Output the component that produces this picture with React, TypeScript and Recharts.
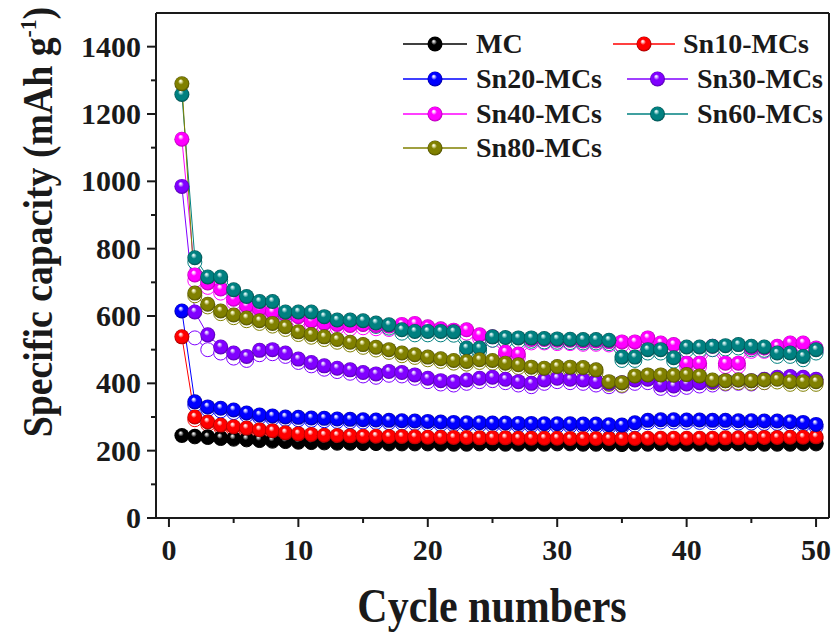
import React from 'react';
import { LineChart, Line, XAxis, YAxis, ReferenceLine, Legend } from 'recharts';

// cycle numbers (x)
const cycles = [
  1, 2, 3, 4, 5, 6, 7, 8, 9, 10, 11, 12, 13, 14, 15, 16, 17, 18, 19, 20,
  21, 22, 23, 24, 25, 26, 27, 28, 29, 30, 31, 32, 33, 34, 35, 36, 37, 38, 39, 40,
  41, 42, 43, 44, 45, 46, 47, 48, 49, 50,
];

// discharge capacities (filled balls), mAh/g
const mcDischarge = [
  245, 243, 241, 238, 236, 234, 232, 230, 229, 227,
  226, 225, 224, 224, 223, 223, 222, 222, 222, 222,
  221, 221, 221, 222, 222, 221, 221, 221, 221, 222,
  222, 221, 221, 221, 220, 221, 221, 222, 222, 221,
  221, 221, 222, 222, 222, 221, 221, 221, 222, 222,
];
const sn10Discharge = [
  538, 300, 285, 276, 271, 267, 262, 259, 253, 250,
  248, 246, 245, 244, 243, 243, 242, 242, 241, 240,
  240, 239, 239, 238, 238, 238, 237, 237, 237, 237,
  236, 236, 236, 236, 236, 236, 237, 237, 237, 237,
  237, 237, 238, 238, 238, 239, 239, 240, 240, 241,
];
const sn20Discharge = [
  615, 345, 330, 326, 321, 312, 306, 303, 300, 299,
  297, 296, 294, 293, 292, 291, 290, 289, 288, 287,
  285, 284, 283, 283, 282, 282, 281, 281, 280, 280,
  280, 279, 279, 277, 276, 283, 290, 292, 292, 291,
  291, 290, 290, 289, 289, 288, 288, 286, 284, 278,
];
const sn30Discharge = [
  985, 612, 544, 508, 490, 480, 498, 500, 490, 472,
  462, 452, 445, 440, 432, 428, 435, 432, 425, 415,
  408, 405, 410, 415, 418, 412, 405, 400, 410, 415,
  412, 410, 405, 400, 402, 410, 412, 395, 392, 398,
  402, 405, 408, 410, 408, 412, 418, 420, 418, 412,
];
const sn40Discharge = [
  1125, 722, 698, 680, 650, 630, 620, 612, 605, 598,
  585, 578, 575, 572, 575, 572, 570, 575, 578, 568,
  562, 558, 559, 544, 538, 493, 487, 530, 530, 528,
  528, 526, 526, 524, 523, 523, 535, 520, 515, 460,
  460, 510, 460, 460, 505, 505, 510, 520, 520, 505,
];
const sn60Discharge = [
  1258, 773, 716, 716, 678, 658, 643, 643, 612, 612,
  612, 598, 588, 588, 586, 579, 574, 559, 554, 554,
  554, 553, 505, 505, 538, 536, 535, 535, 533, 532,
  531, 530, 530, 528, 478, 478, 500, 500, 476, 508,
  508, 510, 512, 515, 510, 508, 490, 490, 480, 500,
];
const sn80Discharge = [
  1290, 668, 635, 615, 603, 594, 586, 578, 568, 553,
  545, 538, 530, 522, 515, 507, 500, 490, 485, 478,
  473, 468, 465, 470, 468, 460, 455, 448, 445, 450,
  448, 447, 440, 405, 402, 422, 425, 425, 424, 426,
  422, 410, 408, 410, 408, 410, 412, 405, 405, 405,
];

// charge capacities (open circles), start at cycle 2
const mcCharge = [
  null, 241, 239, 236, 234, 232, 230, 228, 227, 225,
  224, 223, 222, 222, 221, 221, 220, 220, 220, 220,
  219, 219, 219, 220, 220, 219, 219, 219, 219, 220,
  220, 219, 219, 219, 218, 219, 219, 220, 220, 219,
  219, 219, 220, 220, 220, 219, 219, 219, 220, 220,
];
const sn10Charge = [
  null, 292, 278, 269, 264, 260, 256, 253, 248, 245,
  243, 241, 240, 239, 238, 238, 237, 237, 236, 235,
  235, 234, 234, 233, 233, 233, 232, 232, 232, 232,
  231, 231, 231, 231, 231, 231, 232, 232, 232, 232,
  232, 232, 233, 233, 233, 234, 234, 235, 235, 236,
];
const sn20Charge = [
  null, 336, 322, 318, 313, 305, 299, 296, 293, 292,
  290, 289, 287, 286, 285, 284, 283, 282, 281, 280,
  278, 277, 276, 276, 275, 275, 274, 274, 273, 273,
  273, 272, 272, 270, 270, 276, 283, 285, 285, 284,
  284, 283, 283, 282, 282, 281, 281, 279, 277, 271,
];
const sn30Charge = [
  null, 535, 500, 490, 475, 468, 485, 488, 480, 462,
  452, 442, 435, 430, 422, 418, 424, 422, 415, 405,
  398, 395, 400, 405, 408, 402, 395, 390, 400, 405,
  402, 400, 395, 390, 392, 400, 402, 385, 382, 388,
  392, 395, 398, 400, 398, 402, 408, 410, 408, 402,
];
const sn40Charge = [
  null, 705, 685, 668, 640, 620, 610, 602, 595, 588,
  575, 568, 565, 562, 565, 562, 560, 565, 568, 558,
  552, 548, 549, 534, 528, 483, 477, 520, 520, 518,
  518, 516, 516, 514, 513, 513, 525, 510, 505, 450,
  450, 500, 450, 450, 495, 495, 500, 510, 510, 495,
];
const sn60Charge = [
  null, 760, 705, 705, 668, 648, 633, 633, 602, 602,
  602, 588, 578, 578, 576, 569, 564, 549, 544, 544,
  544, 543, 495, 495, 528, 526, 525, 525, 523, 522,
  521, 520, 520, 518, 468, 468, 490, 490, 466, 498,
  498, 500, 502, 505, 500, 498, 480, 480, 470, 490,
];
const sn80Charge = [
  null, 660, 627, 607, 595, 586, 578, 570, 560, 545,
  537, 530, 522, 514, 507, 499, 492, 482, 477, 470,
  465, 460, 457, 462, 460, 452, 447, 440, 437, 442,
  440, 439, 432, 397, 394, 414, 417, 417, 416, 418,
  414, 402, 400, 402, 400, 402, 404, 397, 397, 397,
];

const seriesNames = ['MC', 'Sn10-MCs', 'Sn20-MCs', 'Sn30-MCs', 'Sn40-MCs', 'Sn60-MCs', 'Sn80-MCs'];
const seriesKeys = ['mc', 'sn10', 'sn20', 'sn30', 'sn40', 'sn60', 'sn80'];
const seriesColors = ['#000000', '#ff0000', '#0000ff', '#8000ff', '#ff00ff', '#008080', '#808000'];
const dischargeSets = [mcDischarge, sn10Discharge, sn20Discharge, sn30Discharge, sn40Discharge, sn60Discharge, sn80Discharge];
const chargeSets = [mcCharge, sn10Charge, sn20Charge, sn30Charge, sn40Charge, sn60Charge, sn80Charge];

const xTicks = [0, 5, 10, 15, 20, 25, 30, 35, 40, 45, 50];
const yTicks = [0, 100, 200, 300, 400, 500, 600, 700, 800, 900, 1000, 1100, 1200, 1300, 1400];

// highlight / edge shades for the glossy balls
const ballLights = ['#b8b8b8', '#ffc8c8', '#c8c8ff', '#dcc0ff', '#ffd0ff', '#b0e0e0', '#e8e8b0'];
const ballShades = ['#000000', '#a00000', '#00009a', '#5200a8', '#b000b0', '#004c4c', '#4c4c00'];

// legend placement (px in chart)
const legendSpots = [
  { x: 403, y: 44, w: 64, gap: 9 },
  { x: 613, y: 44, w: 62, gap: 8 },
  { x: 403, y: 79, w: 64, gap: 9 },
  { x: 627, y: 79, w: 61, gap: 9 },
  { x: 403, y: 114, w: 64, gap: 9 },
  { x: 627, y: 114, w: 61, gap: 9 },
  { x: 403, y: 148, w: 64, gap: 9 },
];

const FONT = '"Liberation Serif", "Times New Roman", serif';
const INK = '#1a1a1a';

const rows = cycles.map((c, i) => {
  const row: any = { cycle: c };
  seriesKeys.forEach((k, s) => {
    row[k + 'D'] = dischargeSets[s][i];
    row[k + 'C'] = chargeSets[s][i];
  });
  return row;
});

const YTick = (props: any) => {
  const { x, y, payload } = props;
  const major = payload.value % 200 === 0;
  return (
    <g>
      <line x1={x - (major ? 9 : 5)} x2={x} y1={y} y2={y} stroke={INK} strokeWidth={2} />
      {major && (
        <text x={x - 15} y={y + 10} textAnchor="end" fontSize={30} fontWeight="bold" fontFamily={FONT} fill={INK}>
          {payload.value}
        </text>
      )}
    </g>
  );
};

const XTick = (props: any) => {
  const { x, y, payload } = props;
  const major = payload.value % 10 === 0;
  return (
    <g>
      <line x1={x} x2={x} y1={y} y2={y + (major ? 9 : 5)} stroke={INK} strokeWidth={2} />
      {major && (
        <text x={x} y={y + 42} textAnchor="middle" fontSize={30} fontWeight="bold" fontFamily={FONT} fill={INK}>
          {payload.value}
        </text>
      )}
    </g>
  );
};

const ballDot = (s: number) => (p: any) => {
  const key = `d${s}-${p.index}`;
  if (p.cx == null || p.cy == null || p.value == null) return <g key={key} />;
  return <circle key={key} cx={p.cx} cy={p.cy} r={7.5} fill={`url(#ball${s})`} />;
};

const ringDot = (s: number) => (p: any) => {
  const key = `c${s}-${p.index}`;
  if (p.cx == null || p.cy == null || p.value == null) return <g key={key} />;
  return <circle key={key} cx={p.cx} cy={p.cy} r={7} fill="#fff" stroke={seriesColors[s]} strokeWidth={1} />;
};

const renderLegend = () => (
  <div style={{ position: 'relative', width: 837, height: 170 }}>
    {seriesNames.map((name, i) => {
      const spot = legendSpots[i];
      return (
        <div
          key={name}
          style={{ position: 'absolute', left: spot.x, top: spot.y - 16, height: 32, display: 'flex', alignItems: 'center' }}
        >
          <svg width={spot.w} height={20} style={{ display: 'block' }}>
            <line x1={0} x2={spot.w} y1={10} y2={10} stroke={seriesColors[i]} strokeWidth={1.3} />
            <circle cx={spot.w / 2} cy={10} r={7.5} fill={`url(#ball${i})`} />
          </svg>
          <span
            style={{ marginLeft: spot.gap, fontFamily: FONT, fontWeight: 'bold', fontSize: 28, color: INK, lineHeight: '32px', whiteSpace: 'nowrap' }}
          >
            {name}
          </span>
        </div>
      );
    })}
  </div>
);

export default function App() {
  return (
    <div style={{ position: 'absolute', left: 0, top: 0, width: 837, height: 636, background: '#fff' }}>
      <LineChart width={837} height={636} data={rows} margin={{ top: 13, right: 8, left: 0, bottom: 0 }}>
        <defs>
          {seriesColors.map((c, i) => (
            <radialGradient key={c} id={`ball${i}`} cx="50%" cy="50%" r="50%" fx="40%" fy="30%">
              <stop offset="0%" stopColor="#ffffff" />
              <stop offset="14%" stopColor={ballLights[i]} />
              <stop offset="38%" stopColor={c} />
              <stop offset="80%" stopColor={c} />
              <stop offset="100%" stopColor={ballShades[i]} />
            </radialGradient>
          ))}
        </defs>
        <XAxis
          dataKey="cycle"
          type="number"
          domain={[-1, 51]}
          ticks={xTicks}
          interval={0}
          height={118}
          tickSize={0}
          tickMargin={0}
          tickLine={false}
          axisLine={{ stroke: INK, strokeWidth: 2 }}
          tick={<XTick />}
          label={{
            content: () => (
              <text
                transform="translate(492,622) scale(0.875,1)"
                textAnchor="middle"
                fontSize={48}
                fontWeight="bold"
                fontFamily={FONT}
                fill={INK}
              >
                Cycle numbers
              </text>
            ),
          }}
        />
        <YAxis
          type="number"
          domain={[0, 1500]}
          ticks={yTicks}
          interval={0}
          width={156}
          tickSize={0}
          tickMargin={0}
          tickLine={false}
          axisLine={{ stroke: INK, strokeWidth: 2 }}
          tick={<YTick />}
          label={{
            content: () => (
              <text
                transform="translate(52,222) rotate(-90) scale(0.9,1)"
                textAnchor="middle"
                fontSize={42}
                fontWeight="bold"
                fontFamily={FONT}
                fill={INK}
              >
                Specific capacity (mAh g
                <tspan dy={-16} fontSize={24}>-1</tspan>
                <tspan dy={16}>)</tspan>
              </text>
            ),
          }}
        />
        <ReferenceLine y={1500} stroke={INK} strokeWidth={2} />
        <ReferenceLine x={51} stroke={INK} strokeWidth={2} />
        <Legend
          layout="horizontal"
          verticalAlign="middle"
          align="center"
          content={renderLegend}
          wrapperStyle={{ left: 0, top: 0, width: 837, height: 170, pointerEvents: 'none' }}
        />
        {seriesKeys.map((k, s) => (
          <Line
            key={k + 'C'}
            dataKey={k + 'C'}
            stroke={seriesColors[s]}
            strokeWidth={1}
            dot={ringDot(s)}
            activeDot={false}
            legendType="none"
            isAnimationActive={false}
          />
        ))}
        {seriesKeys.map((k, s) => (
          <Line
            key={k + 'D'}
            dataKey={k + 'D'}
            name={seriesNames[s]}
            stroke={seriesColors[s]}
            strokeWidth={1}
            dot={ballDot(s)}
            activeDot={false}
            isAnimationActive={false}
          />
        ))}
      </LineChart>
    </div>
  );
}
